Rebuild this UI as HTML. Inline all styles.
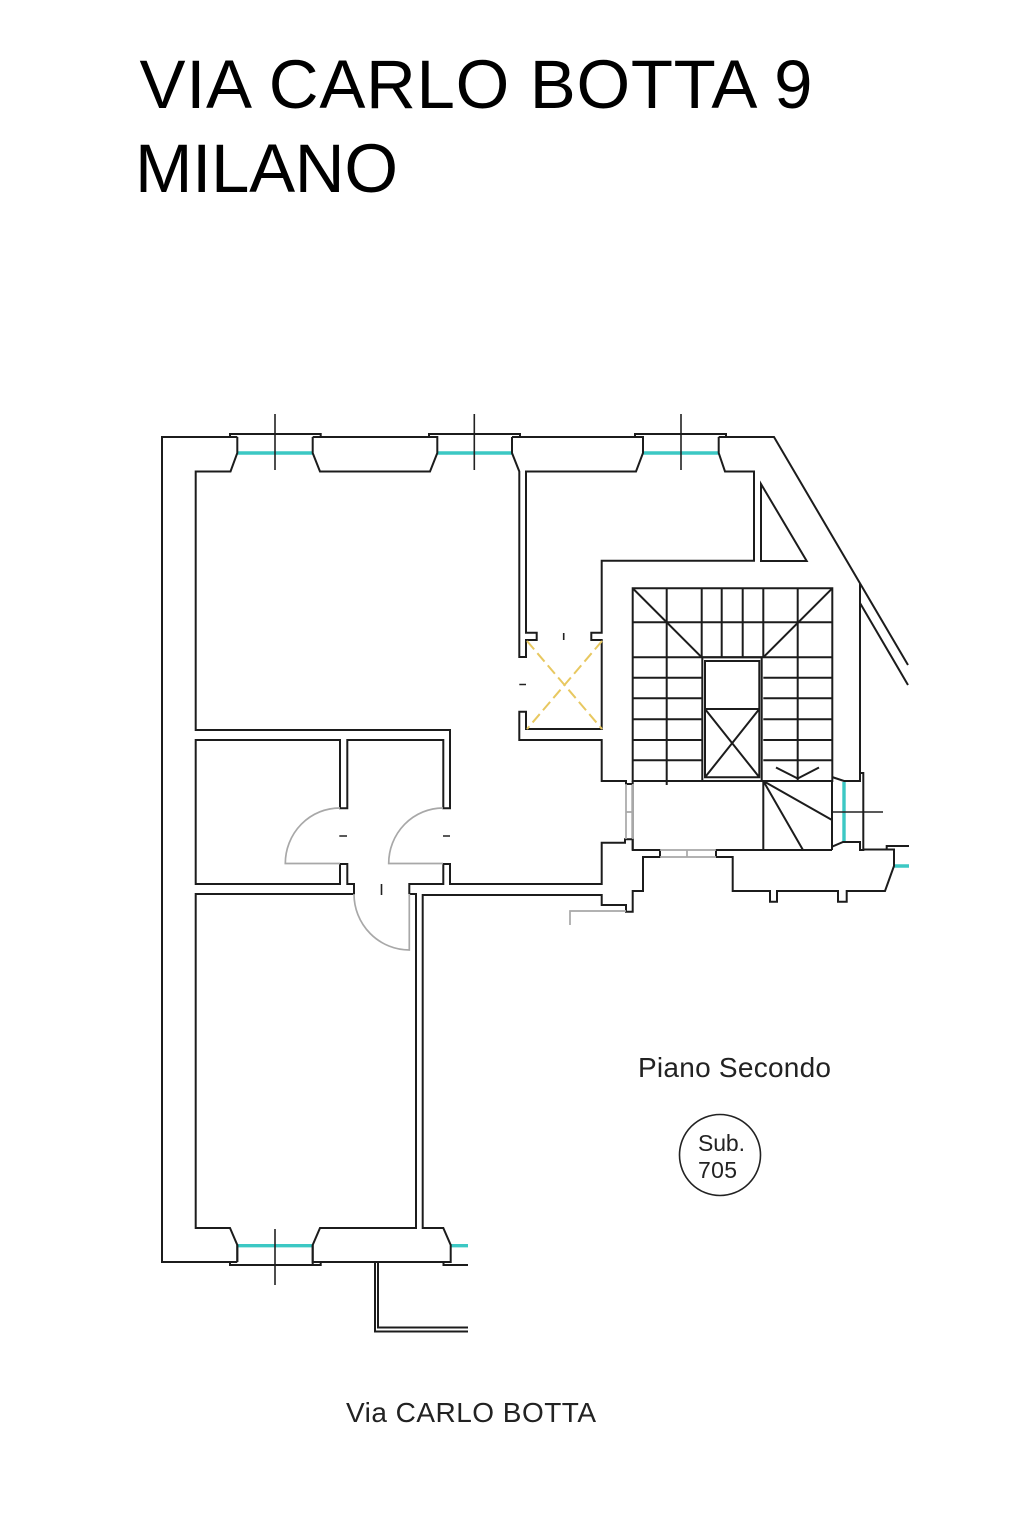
<!DOCTYPE html>
<html><head><meta charset="utf-8"><title>Via Carlo Botta 9 Milano</title>
<style>html,body{margin:0;padding:0;background:#fff;width:1023px;height:1535px;overflow:hidden}svg{display:block}
text{font-family:"Liberation Sans",sans-serif;fill:#000}
.w{fill:none;stroke:#1c1c1c;stroke-width:2;stroke-linejoin:miter}
.t{fill:none;stroke:#222;stroke-width:1.6}
.c{fill:none;stroke:#3cc8c4;stroke-width:3.4}
.g{fill:none;stroke:#a8a8a8;stroke-width:1.7}
.s{fill:none;stroke:#1c1c1c;stroke-width:2}
</style></head><body>
<svg width="1023" height="1535" viewBox="0 0 1023 1535" xmlns="http://www.w3.org/2000/svg">
<text x="139.5" y="108" font-size="69" textLength="673">VIA CARLO BOTTA 9</text>
<text x="135" y="192" font-size="69" textLength="263">MILANO</text>
<text x="638" y="1077" font-size="28" textLength="193" style="fill:#222">Piano Secondo</text>
<text x="698" y="1151" font-size="23" textLength="47" style="fill:#222">Sub.</text>
<text x="698" y="1178" font-size="23" textLength="39" style="fill:#222">705</text>
<text x="346" y="1422" font-size="28" textLength="250" style="fill:#222">Via CARLO BOTTA</text>
<circle cx="720" cy="1155" r="40.5" class="t"/>

<!-- glass -->
<path class="c" d="M237 453H313M437 453H512M643 453H719M237 1245.7H313M451 1245.7H468M844 782V842M894 866H909"/>
<!-- crosses -->
<path class="t" d="M275 414V470M474.3 414V470M681 414V470M275 1229V1285M832 812H883"/>

<!-- outer + top wall -->
<path class="w" d="M237.3 437H162V1262H237.3"/>
<path class="w" d="M230 437V434H320.7V437M429 437V434H520V437M635 437V434H726V437"/>
<path class="w" d="M237.3 437V453L230.5 471.5H195.7V730H450V808.3H443.3V740H347.3V808.3H340V740H195.7V884H340V864H347.3V884H354V894H195.7V1228H230L237.3 1245V1262"/>
<path class="w" d="M312.7 437V453L320 471.5H430L437.3 453V437H312.7"/>
<path class="w" d="M512 437V453L519.3 471.5V657H526V640H536.7V632.7H526V471.5H636L643 453V437H512"/>
<path class="w" d="M718.7 437H774L908 665M718.7 437V453L725 471.5H754V560.7H601.7V632.7H591.3V640H601.7V729H526V711.7H519.3V740H601.7V781H626V784H632.7"/>
<path class="w" d="M761 484V561H806.7Z"/>
<path class="w" d="M860 603L908 685M860 583V781H844L832 777M832 846.7L843 842H860V850H863.3V773H860"/>

<!-- lower walls -->
<path class="w" d="M409.3 894V884H443.3V864H450V884H601.7V842.7H625V839.3H632.7V850H660V857H643V891H632.7V911.7H626V905H601.7V895H422.7V1228H443.3L450.7 1245V1262H312.7V1245L320 1228H416V894H409.3"/>
<path class="w" d="M716 857V850H832M716 857H732.7V891H770V901.7H777V891H838V901.7H846.7V891H885L894 866V849.5H863.3M886.7 849.5V846H909"/>
<path class="w" d="M230 1262V1265H320.7V1262H312.7M443.5 1262V1265H468M237.3 1262V1245M312.7 1245V1265"/>
<path class="w" d="M375 1262V1331.5H468M378 1262V1327.5H468"/>

<!-- stairs -->
<path class="s" d="M632.7 588.3H832.3V781H632.7ZM632.7 622.3H832.3M632.7 657.3H832.3M632.7 677.7H701.7M632.7 698.3H701.7M632.7 719.3H701.7M632.7 740H701.7M632.7 760.3H701.7M763.3 677.7H832.3M763.3 698.3H832.3M763.3 719.3H832.3M763.3 740H832.3M763.3 760.3H832.3"/>
<path class="s" d="M666.7 588.3V785M701.7 588.3V657.3M721.7 588.3V657.3M742.7 588.3V657.3M763.3 588.3V657.3M797.7 588.3V781"/>
<path class="s" d="M632.7 588.3L701.7 657.3M832.3 588.3L763.3 657.3"/>
<path class="s" d="M702.3 657.3H761.7V781H702.3ZM705 661H759.3V777.3H705ZM705 709H759.3M705 709L759.3 777.3M759.3 709L705 777.3"/>
<path class="s" d="M763.3 781V850M763.3 781L832 820M763.3 781L802.7 849.5M832 781V850M776 767.5L797.7 778.5L819 767.5M632.7 781V850"/>

<!-- grey doors and arcs -->
<path class="g" d="M340 808A54.5 55.5 0 0 0 285.3 863.5H340M443 808A54.5 55.5 0 0 0 388.7 863.5H443M354 894A55.5 56 0 0 0 409.3 950V894"/>
<path class="g" d="M626 784V839M632.7 784V839M626 812H632.7M660 850H716M660 857H716M687 850V857M570 925V911H626"/>
<!-- ticks -->
<path class="t" d="M339.3 836H347M443 836H450M381.5 884V895M563.7 633V640M519.3 684.5H526"/>
<!-- yellow X -->
<path d="M527 641L602 729M602 641L527 729" fill="none" stroke="#e8c860" stroke-width="2" stroke-dasharray="11 5"/>
</svg>
</body></html>
